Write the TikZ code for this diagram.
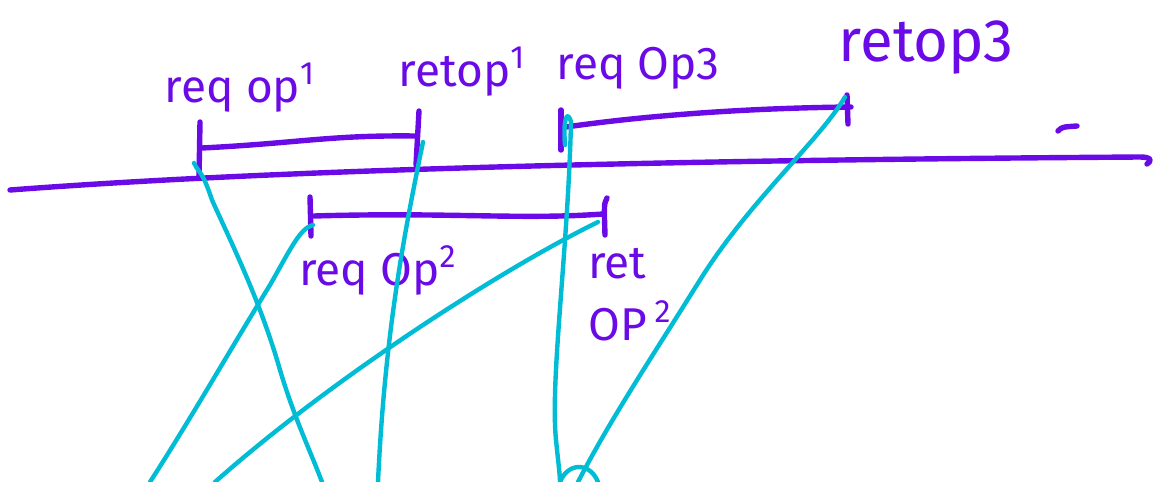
\documentclass[tikz,border=0pt]{standalone}
\usepackage{fontspec}
\setmainfont{Fira Sans}
\definecolor{ink}{HTML}{6A0AE6}
\definecolor{teal}{HTML}{00BCD4}
\begin{document}
\begin{tikzpicture}[x=0.5pt,y=-0.5pt,
  pen/.style={draw=ink,line width=2.7pt,line cap=round,line join=round},
  wire/.style={draw=teal,line width=2.2pt,line cap=round,line join=round},
  lbl/.style={text=ink,font=\fontsize{23}{25}\selectfont,inner sep=0pt}]
\useasboundingbox (0,0) rectangle (1158,482);
% timeline
\draw[pen] (10,190) .. controls (300,168) and (700,160) .. (1140,157) .. controls (1152,157) and (1152,161) .. (1147,164);
\draw[pen] (1058,131) .. controls (1062,127) .. (1077,126);
% op1 interval
\coordinate (a1t) at (200,122); \coordinate (a1b) at (199,178);
\coordinate (b1t) at (419,111); \coordinate (b1b) at (416,165);
\draw[pen] (a1t) -- (a1b);
\draw[pen] (b1t) -- (b1b);
\draw[pen] (202,148) .. controls (300,143) and (330,135) .. (415,136);
% op3 interval
\coordinate (a3t) at (561,110); \coordinate (a3b) at (561,150);
\coordinate (b3t) at (847,95); \coordinate (b3b) at (848,124);
\draw[pen] (a3t) -- (a3b);
\draw[pen] (b3t) -- (b3b);
\draw[pen] (566,127) .. controls (650,115) and (750,108) .. (851,107);
% op2 interval
\coordinate (a2t) at (310,197); \coordinate (a2b) at (311,236);
\coordinate (b2t) at (607,198); \coordinate (b2b) at (605,235);
\draw[pen] (a2t) -- (a2b);
\draw[pen] (b2t) .. controls (604,204) .. (605,235);
\draw[pen] (314,216) .. controls (450,212) and (520,220) .. (603,214);
% labels
\node[lbl] (req1) at (240,88) {req op\textsuperscript{1}};
\node[lbl] (ret1) at (462,72) {retop\textsuperscript{1}};
\node[lbl] (req3) at (638,68) {req Op3};
\node[lbl,font=\fontsize{30}{32}\selectfont] (ret3) at (926,48) {retop3};
\node[lbl] (req2) at (378,270) {req Op\textsuperscript{2}};
\node[lbl,align=left] (ret2) at (630,295) {ret\\[6pt]OP\,\textsuperscript{2}};
% cyan strokes
\draw[wire] (194,163) .. controls (200,175) and (202,170) .. (212,200)
  .. controls (230,240) and (260,300) .. (280,370) .. controls (295,420) and (310,450) .. (322,482);
\draw[wire] (423,142) .. controls (405,230) and (385,330) .. (378,482);
\draw[wire] (313,225) .. controls (300,228) and (290,250) .. (270,285) .. controls (230,350) and (190,420) .. (150,482);
\draw[wire] (598,222) .. controls (500,270) and (330,380) .. (215,482);
\draw[wire] (565,145) .. controls (563,120) and (567,108) .. (571,122)
  .. controls (568,250) and (550,380) .. (556,440) .. controls (558,460) and (560,475) .. (560,482);
\draw[wire] (560,482) .. controls (568,462) and (590,462) .. (598,482);
\draw[wire] (845,97) .. controls (820,140) and (750,200) .. (700,280) .. controls (650,360) and (610,420) .. (578,482);
\end{tikzpicture}
\end{document}
